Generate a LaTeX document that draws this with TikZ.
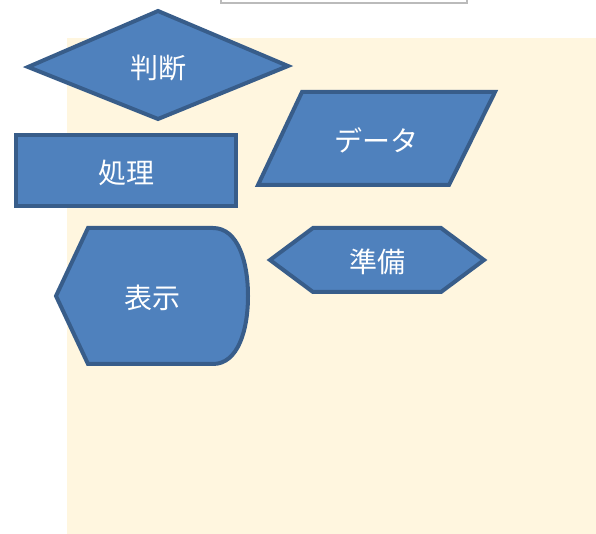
\documentclass[tikz,border=0pt]{standalone}
\usepackage{fontspec}
\newfontfamily\cjk{Noto Sans CJK JP}
\definecolor{shapefill}{HTML}{4F81BD}
\definecolor{shapeline}{HTML}{385D8A}
\definecolor{cream}{HTML}{FFF6DF}
\definecolor{framegray}{HTML}{BBBBBB}
\begin{document}
\begin{tikzpicture}[x=0.75pt,y=-0.75pt,
  shp/.style={fill=shapefill,draw=shapeline,line width=3pt,line join=miter},
  lbl/.style={text=white,font=\cjk\fontsize{21pt}{24pt}\selectfont,inner sep=0pt}]
\useasboundingbox (0,0) rectangle (596,534);
% background
\fill[cream] (67,38) rectangle (596,534);
% top frame (partially visible)
\draw[framegray,line width=1.2pt] (221,-20) rectangle (467,3);
% diamond
\draw[shp] (28,67) -- (158,11) -- (288,66) -- (158,119) -- cycle;
\node[lbl] (hd) at (158,68) {判断};
% process rectangle
\draw[shp] (15.5,135.5) rectangle (236,206);
\node[lbl] (sr) at (126,173) {処理};
% data parallelogram
\draw[shp] (302,92) -- (495,92) -- (449,185) -- (258,185) -- cycle;
\node[lbl] (dt) at (376,140) {データ};
% preparation hexagon
\draw[shp] (270,260) -- (313,228) -- (441,228) -- (484,260) -- (441,292) -- (313,292) -- cycle;
\node[lbl] (jb) at (377,262) {準備};
% display
\draw[shp] (56,296) -- (88,228) -- (213,228)
  .. controls (238,228) and (248,262) .. (248,296)
  .. controls (248,330) and (238,364) .. (213,364)
  -- (88,364) -- cycle;
\node[lbl] (hj) at (152,298) {表示};
\end{tikzpicture}
\end{document}
